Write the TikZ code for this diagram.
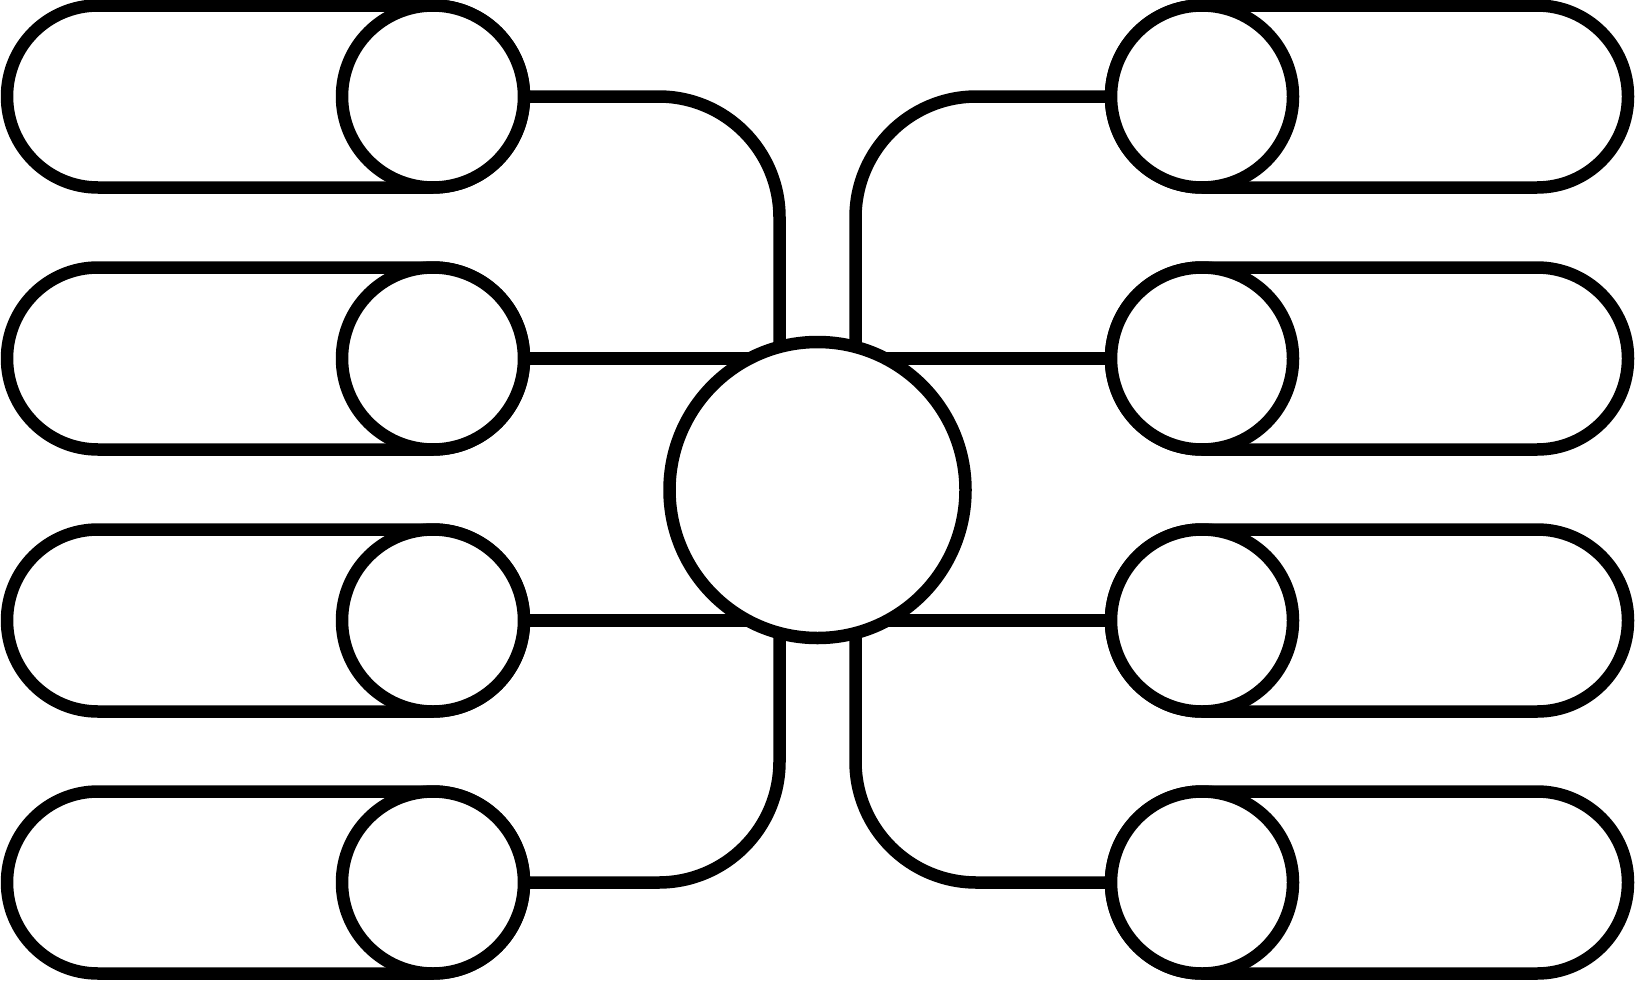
\documentclass[tikz,border=0pt]{standalone}
\usetikzlibrary{shapes.misc,backgrounds,calc}
\tikzset{
  ln/.style={draw=black,line width=12.5pt,line join=round},
  pill/.style={ln,fill=white,rounded rectangle,minimum width=517pt,minimum height=182pt,inner sep=0pt,outer sep=0pt},
  knob/.style={ln,fill=white,circle,minimum size=182pt,inner sep=0pt,outer sep=0pt},
  hub/.style={ln,fill=white,circle,minimum size=296pt,inner sep=0pt,outer sep=0pt},
  conn/.style={ln,line cap=butt,rounded corners=121pt},
}
\begin{document}
\begin{tikzpicture}[x=1pt,y=-1pt]
\useasboundingbox (0,0) rectangle (1635,980);
% pills
\foreach \i/\y in {1/96.5,2/358.5,3/620.5,4/882.5}{
  \node[pill] (lp\i) at (265.5,\y) {};
  \node[knob] (l\i) at (433,\y) {};
  \node[pill] (rp\i) at (1369.5,\y) {};
  \node[knob] (r\i) at (1202,\y) {};
}
\node[hub] (C) at (817.5,490) {};
\begin{scope}[on background layer]
  \draw[conn] (l1.east) -| ([xshift=-38pt]C.center);
  \draw[conn] (r1.west) -| ([xshift=38pt]C.center);
  \draw[conn] (l4.east) -| ([xshift=-38pt]C.center);
  \draw[conn] (r4.west) -| ([xshift=38pt]C.center);
  \draw[conn] (l2.east) -- (l2.east -| C.center);
  \draw[conn] (r2.west) -- (r2.west -| C.center);
  \draw[conn] (l3.east) -- (l3.east -| C.center);
  \draw[conn] (r3.west) -- (r3.west -| C.center);
\end{scope}
\end{tikzpicture}
\end{document}
